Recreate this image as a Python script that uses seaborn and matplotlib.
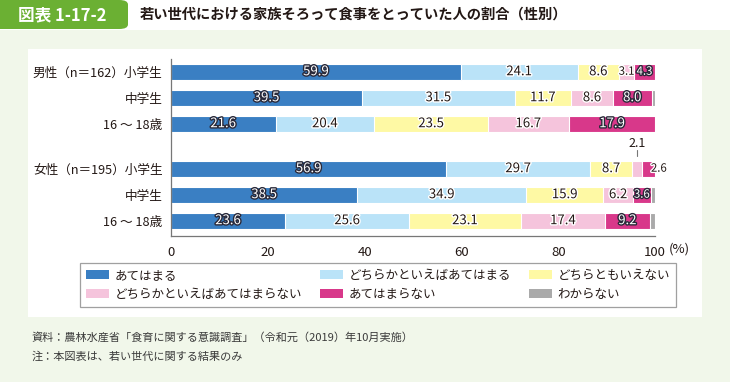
import numpy as np
import pandas as pd
import matplotlib
matplotlib.use("Agg")
import matplotlib.pyplot as plt
import matplotlib.patheffects as pe
from matplotlib.patches import Rectangle, FancyBboxPatch, Patch
import seaborn as sns

# datos del grafico
rows = ["男性（n＝162）小学生", "中学生", "16 ～ 18歳",
        "女性（n＝195）小学生", "中学生", "16 ～ 18歳"]
pos = [0, 1, 2, 3.73, 4.73, 5.73]
cats = ["あてはまる", "どちらかといえばあてはまる", "どちらともいえない",
        "どちらかといえばあてはまらない", "あてはまらない", "わからない"]
atehamaru = [59.9, 39.5, 21.6, 56.9, 38.5, 23.6]
dochira_ate = [24.1, 31.5, 20.4, 29.7, 34.9, 25.6]
dochiramo = [8.6, 11.7, 23.5, 8.7, 15.9, 23.1]
dochira_nai = [3.1, 8.6, 16.7, 2.1, 6.2, 17.4]
atehamaranai = [4.3, 8.0, 17.9, 2.6, 3.6, 9.2]
wakaranai = [0.0, 0.6, 0.0, 0.0, 0.9, 1.1]
colors = ["#3a7fc3", "#bae3f8", "#fef9a4", "#f5c4dc", "#d8388a", "#aaaaaa"]
dark = [True, False, False, False, True, False]

series = [atehamaru, dochira_ate, dochiramo, dochira_nai, atehamaranai, wakaranai]
vals = np.array(series)
cum = np.cumsum(vals, axis=0)

sns.set_style("white")
plt.rcParams["font.family"] = ["Noto Sans CJK JP", "DejaVu Sans"]

W, H = 730, 382
fig = plt.figure(figsize=(W / 100, H / 100), dpi=100)
fig.patch.set_facecolor("white")

def fx(x):
    return x / W

def fy(y):
    return 1 - y / H

# fondos
fig.patches.append(Rectangle((0, 0), 1, fy(30), transform=fig.transFigure,
                             facecolor="#f1f7ea", edgecolor="none", zorder=-2))
fig.patches.append(Rectangle((fx(28), fy(317)), fx(702 - 28), (317 - 49) / H,
                             transform=fig.transFigure, facecolor="white",
                             edgecolor="none", zorder=-1))
fig.patches.append(FancyBboxPatch((fx(-20), fy(29)), fx(148), 29 / H,
                                  boxstyle="round,pad=0,rounding_size=0.012",
                                  transform=fig.transFigure, facecolor="#6bb033",
                                  edgecolor="none", zorder=-1))
fig.text(fx(18), fy(15), "図表 1-17-2", color="white", fontsize=12,
         fontweight="bold", va="center", ha="left")
fig.text(fx(140), fy(15), "若い世代における家族そろって食事をとっていた人の割合（性別）",
         color="#231815", fontsize=10.3, fontweight="bold", va="center", ha="left")

x0, x1 = 171, 655
top, bot = 59, 236
ax = fig.add_axes([fx(x0), fy(bot), fx(x1 - x0), (bot - top) / H])
ax.set_facecolor("none")
ax.set_zorder(3)

# barras apiladas: se dibuja el acumulado de atras hacia adelante
for k in range(len(series) - 1, -1, -1):
    df = pd.DataFrame({"pos": pos, "cum": cum[k]})
    sns.barplot(data=df, x="cum", y="pos", orient="h", native_scale=True,
                color=colors[k], saturation=1, width=0.62, edgecolor="white",
                linewidth=0.8, ax=ax, zorder=2)

ax.set_xlim(0, 100)
ax.set_ylim(6.32, -0.49)
ax.set_xlabel("")
ax.set_ylabel("")
ax.set_yticks(pos)
ax.set_yticklabels(rows, fontsize=9.1, color="#231815")
ax.set_xticks([0, 20, 40, 60, 80, 100])
ax.set_xticklabels(["0", "20", "40", "60", "80", "100"], fontsize=9.5, color="#231815")
ax.tick_params(axis="y", length=0, pad=6)
ax.tick_params(axis="x", direction="in", length=3.5, width=0.8, color="#777777", pad=7)
for s in ["top", "right"]:
    ax.spines[s].set_visible(False)
for s in ["left", "bottom"]:
    ax.spines[s].set_color("#777777")
    ax.spines[s].set_linewidth(0.9)
fig.text(fx(669), fy(249), "(%)", fontsize=9.5, color="#231815", va="center", ha="left")

# etiquetas de valores
for k in range(5):
    for i in range(len(pos)):
        v = vals[k, i]
        c = cum[k, i] - v / 2
        fs = 9.5 if v >= 5 else 8.2
        if dark[k]:
            tc, ec = "white", "#2a2a3a"
        else:
            tc, ec = "#231815", "white"
        y = pos[i]
        if i == 3 and k == 3:
            ax.text(c, y - 0.95, f"{v:.1f}", ha="center", va="center", fontsize=9,
                    color="#231815", zorder=5)
            ax.plot([c, c], [y - 0.72, y - 0.48], color="#777777", lw=0.8, zorder=5)
            continue
        if i == 3 and k == 4:
            c = 100.8
            tc, ec = "#231815", "white"
        ax.text(c, y, f"{v:.1f}", ha="center", va="center", fontsize=fs, color=tc,
                zorder=5, path_effects=[pe.withStroke(linewidth=2, foreground=ec)])

handles = [Patch(facecolor=colors[k], edgecolor="none") for k in range(6)]
order = [0, 3, 1, 4, 2, 5]
leg = fig.legend([handles[k] for k in order], [cats[k] for k in order], ncol=3,
                 loc="upper left", bbox_to_anchor=(fx(80), fy(263)),
                 borderaxespad=0, fontsize=9, frameon=True, fancybox=False,
                 handlelength=1.85, handleheight=0.75, handletextpad=0.45,
                 columnspacing=1.4, labelspacing=0.45, borderpad=0.5)
leg.get_frame().set_edgecolor("#888888")
leg.get_frame().set_linewidth(0.9)
for t in leg.get_texts():
    t.set_color("#231815")

fig.text(fx(32), fy(337), "資料：農林水産省「食育に関する意識調査」（令和元（2019）年10月実施）",
         fontsize=8, color="#3a3a3a", va="center", ha="left")
fig.text(fx(32), fy(357), "注：本図表は、若い世代に関する結果のみ",
         fontsize=8, color="#3a3a3a", va="center", ha="left")

fig.savefig("out.png", dpi=100)
